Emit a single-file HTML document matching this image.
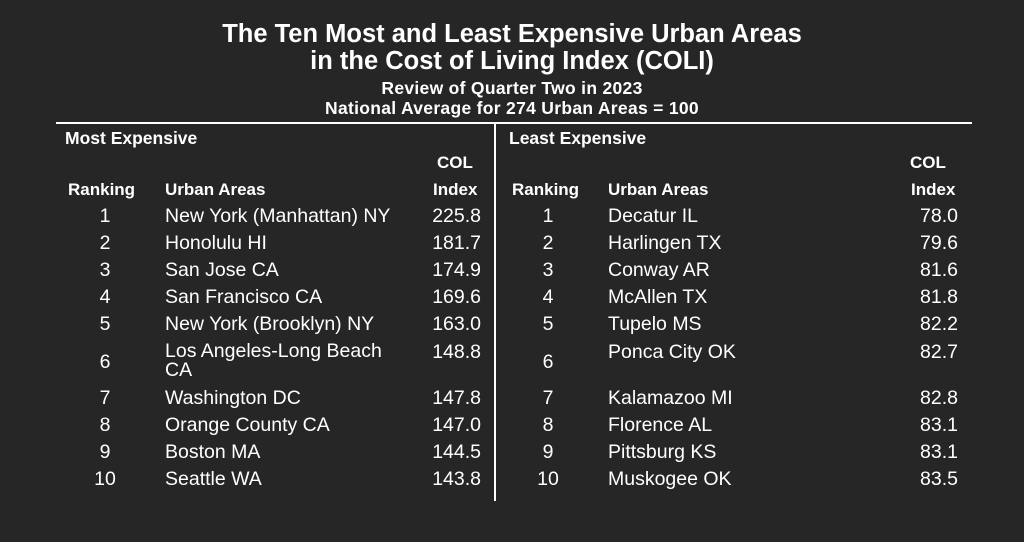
<!DOCTYPE html>
<html><head><style>
body{margin:0;width:1024px;height:542px;background:#262626;color:#fff;font-family:"Liberation Sans",Arial,sans-serif;position:relative;overflow:hidden}
div{position:absolute;white-space:nowrap;line-height:1.15}
.t{left:0;width:1024px;text-align:center;font-weight:bold}
.b{font-weight:bold;font-size:17px}
.r{font-size:19.5px;line-height:23px}
.c{text-align:center;width:60px}
.ri{text-align:right;width:100px}
</style></head><body>
<div class="t" style="top:20px;font-size:25.5px">The Ten Most and Least Expensive Urban Areas</div>
<div class="t" style="top:47px;font-size:25.5px">in the Cost of Living Index (COLI)</div>
<div class="t" style="top:78px;font-size:17.5px;letter-spacing:0.3px">Review of Quarter Two in 2023</div>
<div class="t" style="top:98px;font-size:17.5px;letter-spacing:0.3px">National Average for 274 Urban Areas = 100</div>
<div style="left:56px;top:122px;width:916px;height:2px;background:#fff"></div>
<div style="left:494px;top:123px;width:2px;height:378px;background:#fff"></div>
<div class="b" style="left:65px;top:128px;font-size:17.5px">Most Expensive</div>
<div class="b" style="left:509px;top:128px;font-size:17.5px">Least Expensive</div>
<div class="b" style="left:437px;top:153px">COL</div>
<div class="b" style="left:433px;top:180px">Index</div>
<div class="b" style="left:68px;top:180px">Ranking</div>
<div class="b" style="left:165px;top:180px">Urban Areas</div>
<div class="b" style="left:910px;top:153px">COL</div>
<div class="b" style="left:911px;top:180px">Index</div>
<div class="b" style="left:512px;top:180px">Ranking</div>
<div class="b" style="left:608px;top:180px">Urban Areas</div>

<div id="L"></div>
<script>
var L=[["1","New York (Manhattan) NY","225.8",205],["2","Honolulu HI","181.7",232],["3","San Jose CA","174.9",259],["4","San Francisco CA","169.6",286],["5","New York (Brooklyn) NY","163.0",313],["6","Los Angeles-Long Beach<br>CA","148.8",341],["7","Washington DC","147.8",387],["8","Orange County CA","147.0",414],["9","Boston MA","144.5",441],["10","Seattle WA","143.8",468]];
var R=[["1","Decatur IL","78.0",205],["2","Harlingen TX","79.6",232],["3","Conway AR","81.6",259],["4","McAllen TX","81.8",286],["5","Tupelo MS","82.2",313],["6","Ponca City OK","82.7",341],["7","Kalamazoo MI","82.8",387],["8","Florence AL","83.1",414],["9","Pittsburg KS","83.1",441],["10","Muskogee OK","83.5",468]];
var h="";
L.forEach(function(r){var six=r[0]=="6";var rt=six?r[3]+10:r[3];
h+='<div class="r c" style="left:75px;top:'+rt+'px">'+r[0]+'</div><div class="r" style="left:165px;top:'+(six?r[3]+1:r[3])+'px;'+(six?'line-height:19px':'')+'">'+r[1]+'</div><div class="r ri" style="left:381px;top:'+r[3]+'px">'+r[2]+'</div>';});
R.forEach(function(r){var rt=r[0]=="6"?r[3]+10:r[3];
h+='<div class="r c" style="left:518px;top:'+rt+'px">'+r[0]+'</div><div class="r" style="left:608px;top:'+r[3]+'px">'+r[1]+'</div><div class="r ri" style="left:858px;top:'+r[3]+'px">'+r[2]+'</div>';});
document.getElementById("L").outerHTML=h;
</script>
</body></html>
